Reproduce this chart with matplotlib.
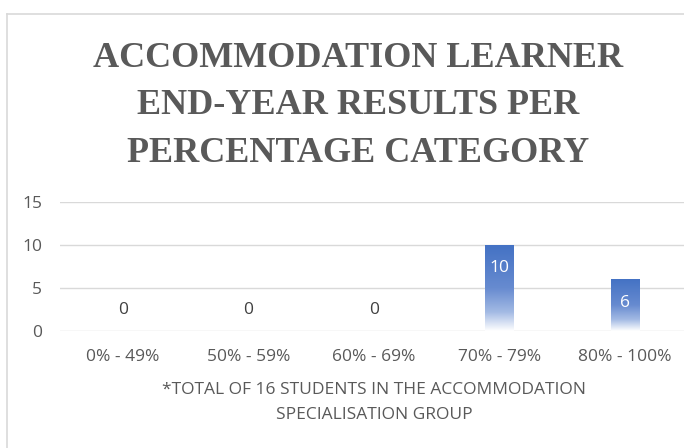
import numpy as np
import matplotlib
matplotlib.use("Agg")
import matplotlib.pyplot as plt
from matplotlib.colors import LinearSegmentedColormap
from matplotlib.lines import Line2D

categories = ["0% - 49%", "50% - 59%", "60% - 69%", "70% - 79%", "80% - 100%"]
values = [0, 0, 0, 10, 6]
yticks = [0, 5, 10, 15]
title = "ACCOMMODATION LEARNER\nEND-YEAR RESULTS PER\nPERCENTAGE CATEGORY"
xlabel = "*TOTAL OF 16 STUDENTS IN THE ACCOMMODATION\nSPECIALISATION GROUP"

W, H = 684, 448
fig = plt.figure(figsize=(W / 100, H / 100), dpi=100)

# axes: x from 60 to 688 px, y from 331 (0) to 202 (15)
ax = fig.add_axes([60 / W, (H - 331) / H, 628 / W, (331 - 202) / H])
ax.set_xlim(-0.5, len(categories) - 0.5)
ax.set_ylim(0, 15)
ax.set_yticks(yticks)
for y in yticks:
    ax.axhline(y, color="#D9D9D9", lw=1.0, zorder=0)
for s in ax.spines.values():
    s.set_visible(False)
ax.tick_params(length=0, colors="#595959", labelsize=12.5)
ax.tick_params(axis="y", pad=13)
ax.tick_params(axis="x", pad=13)
ax.set_xticks(range(len(categories)))
ax.set_xticklabels(categories, family="Open Sans")
for t in ax.get_yticklabels():
    t.set_family("Open Sans")
ax.set_xlabel(xlabel, family="Open Sans", fontsize=12.5, color="#595959",
              labelpad=12, linespacing=1.75)

cmap = LinearSegmentedColormap.from_list(
    "grad", [(0.0, "#4472C4"), (0.5, "#678BD0"), (0.78, "#A3BAE4"), (1.0, "#FFFFFF")])
grad = np.linspace(0, 1, 256).reshape(-1, 1)

bars = ax.bar(range(len(categories)), values, width=0.23, color="none", zorder=2)
for b, v in zip(bars, values):
    if v > 0:
        x0 = b.get_x()
        im = ax.imshow(grad, cmap=cmap, aspect="auto", extent=[x0, x0 + b.get_width(), 0, v],
                       origin="upper", zorder=2, interpolation="bilinear")
        im.set_clip_path(b)
ax.set_xlim(-0.5, len(categories) - 0.5)
ax.set_ylim(0, 15)

for i, v in enumerate(values):
    if v > 0:
        ax.text(i, v - 2.7, str(v), ha="center", va="center", color="white",
                fontsize=12.5, family="Open Sans", zorder=3)
    else:
        ax.text(i, 2.4, str(v), ha="center", va="center", color="#404040",
                fontsize=12.5, family="Open Sans", zorder=3)

fig.text(358 / W, 1 - 106 / H, title, ha="center", va="center",
         family="Liberation Serif", fontweight="bold", fontsize=26,
         color="#595959", linespacing=1.58)

# chart border (left and top)
fig.add_artist(Line2D([6.5 / W, 6.5 / W], [0, 1 - 14 / H], transform=fig.transFigure,
                      color="#D9D9D9", lw=1.2))
fig.add_artist(Line2D([6.5 / W, 1], [1 - 14 / H, 1 - 14 / H], transform=fig.transFigure,
                      color="#D9D9D9", lw=1.2))

fig.savefig("out.png", dpi=100, facecolor="white")
